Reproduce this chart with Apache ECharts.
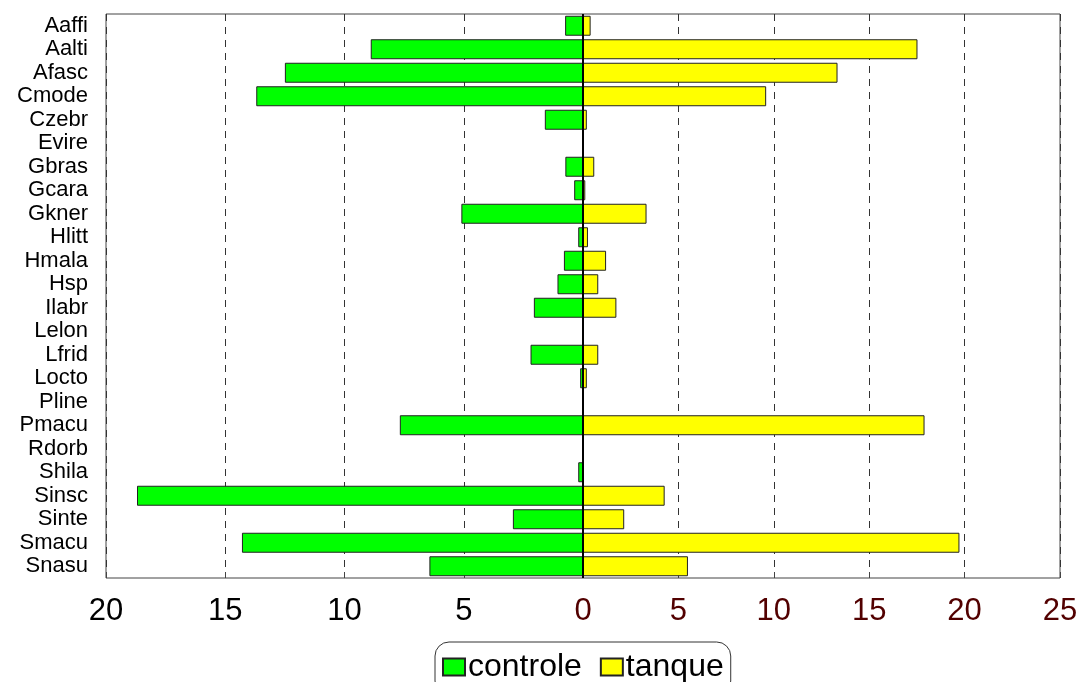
<!DOCTYPE html>
<html>
<head>
<meta charset="utf-8">
<script src="https://cdn.jsdelivr.net/npm/echarts@6/dist/echarts.min.js"></script>
<style>
  html, body { margin: 0; padding: 0; background: #fff; }
  #chart { width: 1081px; height: 682px; }
</style>
</head>
<body>
<div id="chart"></div>
<script>
// species codes, top to bottom
var categories = ['Aaffi', 'Aalti', 'Afasc', 'Cmode', 'Czebr', 'Evire', 'Gbras', 'Gcara',
  'Gkner', 'Hlitt', 'Hmala', 'Hsp', 'Ilabr', 'Lelon', 'Lfrid', 'Locto', 'Pline',
  'Pmacu', 'Rdorb', 'Shila', 'Sinsc', 'Sinte', 'Smacu', 'Snasu'];

// left side (green)
var controle = [0.75, 8.9, 12.5, 13.7, 1.6, 0, 0.74, 0.37,
  5.1, 0.2, 0.8, 1.07, 2.06, 0, 2.2, 0.12, 0,
  7.68, 0, 0.2, 18.7, 2.94, 14.3, 6.44];

// right side (yellow)
var tanque = [0.4, 17.53, 13.34, 9.6, 0.2, 0, 0.59, 0.12,
  3.33, 0.26, 1.21, 0.8, 1.75, 0, 0.8, 0.2, 0,
  17.9, 0, 0, 4.28, 2.16, 19.73, 5.5];

// axis ranges
var leftMax = 20;
var rightMax = 25;
var tickStep = 5;

var chart = echarts.init(document.getElementById('chart'));

var dashed = { show: true, lineStyle: { color: '#333', type: [7, 6], width: 1 } };
var ticks = { show: true, inside: true, length: 6, lineStyle: { color: '#444' } };

chart.setOption({
  animation: false,
  textStyle: { fontFamily: 'Liberation Sans' },
  grid: [
    { left: 106, right: 498, top: 14, bottom: 104, show: true, borderColor: '#444', borderWidth: 1 },
    { left: 583, right: 21, top: 14, bottom: 104, show: true, borderColor: '#444', borderWidth: 1 }
  ],
  xAxis: [
    {
      gridIndex: 0, type: 'value', min: 0, max: leftMax, interval: tickStep, inverse: true,
      axisLine: { show: false }, axisTick: ticks, splitLine: dashed,
      axisLabel: {
        fontSize: 31, color: '#000', margin: 18,
        formatter: function (v) { return v === 0 ? '' : v; }
      }
    },
    {
      gridIndex: 1, type: 'value', min: 0, max: rightMax, interval: tickStep,
      axisLine: { show: false }, axisTick: ticks, splitLine: dashed,
      axisLabel: { fontSize: 31, color: '#520000', margin: 18 }
    }
  ],
  yAxis: [
    {
      gridIndex: 0, type: 'category', data: categories, inverse: true,
      axisLine: { show: false }, axisTick: { show: false },
      axisLabel: { fontSize: 22, color: '#000', margin: 18, interval: 0 }
    },
    {
      gridIndex: 1, type: 'category', data: categories, inverse: true, show: false
    }
  ],
  legend: {
    data: [{ name: 'controle', icon: 'rect' }, { name: 'tanque', icon: 'rect' }],
    left: 435, top: 642,
    itemWidth: 22, itemHeight: 17, itemGap: 18,
    textStyle: { fontSize: 32, color: '#000', padding: [0, 0, 0, -2] },
    borderColor: '#333', borderWidth: 1, borderRadius: 14,
    padding: [9, 7, 12, 7]
  },
  series: [
    {
      name: 'controle', type: 'bar', xAxisIndex: 0, yAxisIndex: 0,
      data: controle, barCategoryGap: '15%',
      itemStyle: { color: '#00ff00', borderColor: '#222', borderWidth: 1 }
    },
    {
      name: 'tanque', type: 'bar', xAxisIndex: 1, yAxisIndex: 1,
      data: tanque, barCategoryGap: '15%',
      itemStyle: { color: '#ffff00', borderColor: '#222', borderWidth: 1 },
      markLine: {
        silent: true, symbol: 'none', label: { show: false },
        lineStyle: { color: '#000', type: 'solid', width: 2 },
        data: [{ xAxis: 0 }]
      }
    }
  ]
});
</script>
</body>
</html>
